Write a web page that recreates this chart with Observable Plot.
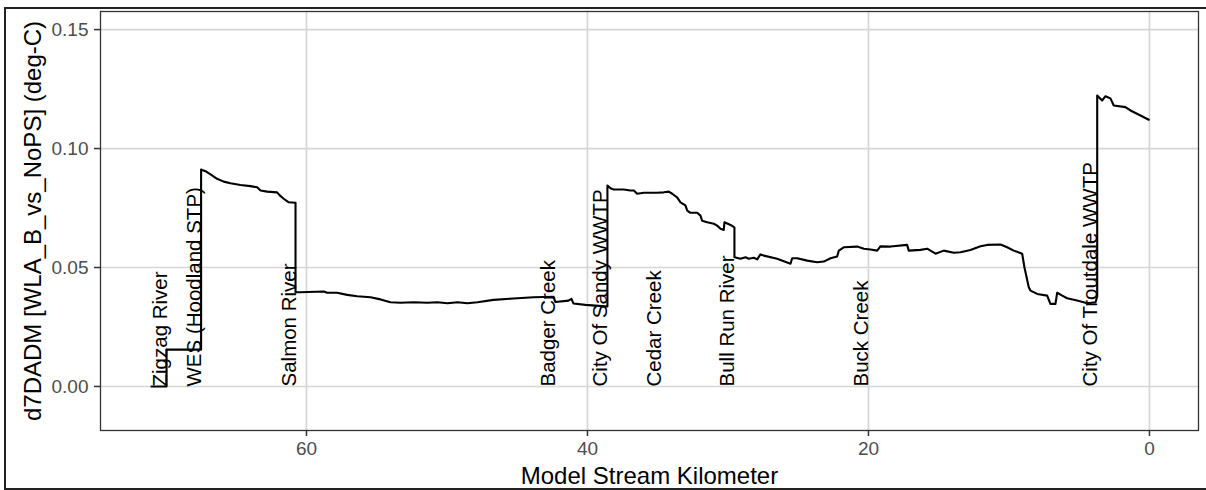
<!DOCTYPE html>
<html>
<head>
<meta charset="utf-8">
<script src="https://cdn.jsdelivr.net/npm/d3@7"></script>
<script src="https://cdn.jsdelivr.net/npm/@observablehq/plot@0.6"></script>
<style>
  html, body { margin: 0; padding: 0; background: #fff; overflow: hidden; }
  #wrap { position: relative; width: 1206px; height: 490px; }
  #border { position: absolute; left: 4px; top: 7px; width: 1210px; height: 479px; border: 2px solid #222; pointer-events: none; }
</style>
</head>
<body>
<div id="wrap"><div id="chart"></div><div id="border"></div></div>
<script>
// Model stream kilometer (decreasing downstream) and temperature difference (deg-C)
const km = [
  71.03, 69.96, 69.96, 67.50, 67.50, 67.42, 67.19, 66.83, 66.36, 65.89,
  65.41, 64.70, 63.99, 63.51, 63.27, 62.80, 62.09, 61.90, 61.62, 61.26,
  60.78, 60.78, 60.43, 58.77, 58.53, 57.82, 57.10, 56.39, 55.44, 54.73,
  54.02, 53.31, 52.38, 51.39, 50.68, 49.96, 49.25, 48.54, 47.83, 46.69,
  45.27, 43.84, 42.42, 42.28, 41.35, 41.14, 41.00, 40.14, 39.43, 38.58,
  38.58, 38.36, 38.13, 37.42, 36.94, 36.70, 36.46, 35.99, 35.04, 34.57,
  34.21, 33.97, 33.62, 33.38, 33.03, 32.90, 32.67, 32.19, 31.96, 31.84,
  31.48, 31.01, 30.77, 30.53, 30.30, 30.25, 29.82, 29.54, 29.54, 29.11,
  28.75, 28.52, 28.16, 27.92, 27.69, 27.45, 26.50, 25.55, 25.43, 25.07,
  24.36, 23.65, 23.18, 22.70, 22.23, 22.11, 21.76, 20.80, 20.33, 19.86,
  19.38, 19.15, 18.43, 17.25, 17.13, 16.30, 15.82, 15.23, 14.64, 13.93,
  13.45, 12.74, 12.03, 11.55, 10.60, 10.13, 9.66, 9.06, 8.90, 8.59,
  8.47, 7.99, 7.28, 7.05, 6.69, 6.57, 6.21, 5.86, 5.15, 4.43,
  3.84, 3.72, 3.72, 3.37, 3.13, 2.78, 2.54, 1.71, 1.35, 0.64,
  0.05
];
const d7dadm = [
  0.0000, 0.0000, 0.0155, 0.0155, 0.0912, 0.0910, 0.0905, 0.0891, 0.0873, 0.0861,
  0.0854, 0.0847, 0.0842, 0.0837, 0.0824, 0.0819, 0.0816, 0.0803, 0.0789, 0.0774,
  0.0772, 0.0396, 0.0396, 0.0399, 0.0394, 0.0394, 0.0385, 0.0379, 0.0375, 0.0366,
  0.0354, 0.0352, 0.0354, 0.0352, 0.0354, 0.0350, 0.0354, 0.0350, 0.0354, 0.0364,
  0.0370, 0.0375, 0.0377, 0.0355, 0.0361, 0.0368, 0.0349, 0.0343, 0.0340, 0.0336,
  0.0845, 0.0833, 0.0828, 0.0828, 0.0824, 0.0824, 0.0810, 0.0814, 0.0814, 0.0816,
  0.0819, 0.0810, 0.0795, 0.0774, 0.0761, 0.0739, 0.0730, 0.0730, 0.0718, 0.0697,
  0.0690, 0.0684, 0.0676, 0.0663, 0.0658, 0.0690, 0.0679, 0.0669, 0.0543, 0.0537,
  0.0543, 0.0537, 0.0541, 0.0534, 0.0555, 0.0550, 0.0537, 0.0516, 0.0539, 0.0539,
  0.0529, 0.0522, 0.0525, 0.0539, 0.0546, 0.0571, 0.0585, 0.0588, 0.0579, 0.0576,
  0.0571, 0.0589, 0.0588, 0.0595, 0.0571, 0.0574, 0.0579, 0.0558, 0.0571, 0.0562,
  0.0564, 0.0574, 0.0589, 0.0595, 0.0597, 0.0585, 0.0571, 0.0558, 0.0501, 0.0417,
  0.0403, 0.0389, 0.0382, 0.0347, 0.0347, 0.0394, 0.0382, 0.0371, 0.0361, 0.0350,
  0.0354, 0.0378, 0.1223, 0.1202, 0.1220, 0.1211, 0.1181, 0.1174, 0.1160, 0.1139,
  0.1121
];

// Inflow / point-source labels
const labelNames = [
  "Zigzag River", "WES (Hoodland STP)", "Salmon River", "Badger Creek",
  "City Of Sandy WWTP", "Cedar Creek", "Bull Run River", "Buck Creek",
  "City Of Troutdale WWTP"
];
const labelKm = [69.96, 67.50, 60.78, 42.28, 38.58, 34.77, 29.54, 20.04, 3.70];

const xTicks = [60, 40, 20, 0];
const yTicks = [0, 0.05, 0.10, 0.15];
const xTitle = "Model Stream Kilometer";
const yTitle = "d7DADM [WLA_B_vs_NoPS] (deg-C)";

const rows = km.map((k, i) => ({km: k, v: d7dadm[i]}));
const labels = labelNames.map((n, i) => ({name: n, km: labelKm[i], v: 0}));

const chart = Plot.plot({
  width: 1206,
  height: 490,
  marginLeft: 100,
  marginRight: 8,
  marginTop: 11,
  marginBottom: 60,
  style: {fontFamily: "'Liberation Sans', Arial, sans-serif", background: "transparent", overflow: "visible"},
  x: {domain: [74.66, -3.49]},
  y: {domain: [-0.0185, 0.1576]},
  marks: [
    Plot.gridY(yTicks, {stroke: "#d6d6d6", strokeOpacity: 1, strokeWidth: 1.7}),
    Plot.gridX(xTicks, {stroke: "#d6d6d6", strokeOpacity: 1, strokeWidth: 1.7}),
    Plot.line(rows, {x: "km", y: "v", stroke: "black", strokeWidth: 2.1, curve: "linear"}),
    Plot.text(labels, {x: "km", y: "v", text: "name", rotate: -90, textAnchor: "start", lineAnchor: "bottom", fontSize: 20.5, fill: "black"}),
    Plot.frame({stroke: "#333", strokeWidth: 1.3}),
    Plot.axisY(yTicks, {tickFormat: d3.format(".2f"), tickSize: 6, tickPadding: 6, fontSize: 19, stroke: "#333", fill: "#4d4d4d", strokeWidth: 1.5, label: null}),
    Plot.axisX(xTicks, {tickFormat: d => String(d), tickSize: 6, tickPadding: 5, fontSize: 19, stroke: "#333", fill: "#4d4d4d", strokeWidth: 1.5, label: null}),
    Plot.text([xTitle], {frameAnchor: "bottom", dy: 46, textAnchor: "middle", lineAnchor: "middle", fontSize: 24, fill: "black"}),
    Plot.text([yTitle], {frameAnchor: "left", dx: -67, rotate: -90, textAnchor: "middle", lineAnchor: "middle", fontSize: 24, fill: "black"})
  ]
});
document.getElementById("chart").appendChild(chart);
</script>
</body>
</html>
